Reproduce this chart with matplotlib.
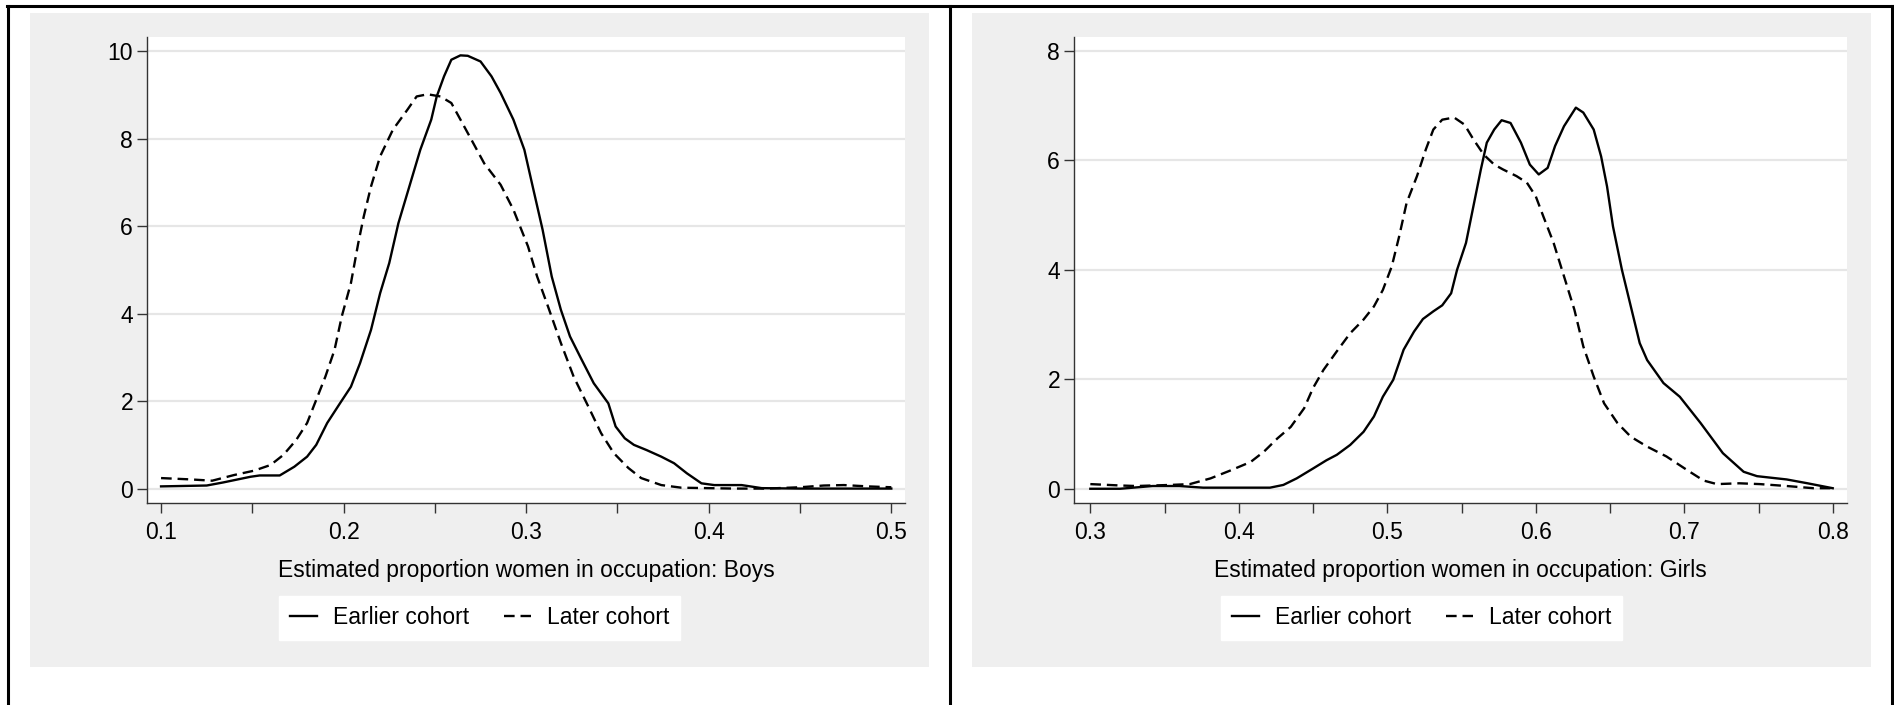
import matplotlib
matplotlib.use('Agg')
import matplotlib.pyplot as plt
from matplotlib.lines import Line2D
from matplotlib.patches import Rectangle

plt.rcParams['font.family'] = ['Liberation Sans', 'DejaVu Sans']

# ---- data (kernel density curves) ----
boys_early_x = [0.100, 0.125, 0.134, 0.149, 0.154, 0.165, 0.173, 0.180, 0.185, 0.191, 0.198, 0.204,
                0.209, 0.215, 0.220, 0.225, 0.230, 0.236, 0.242, 0.248, 0.251, 0.255, 0.259, 0.264,
                0.268, 0.275, 0.281, 0.286, 0.293, 0.299, 0.304, 0.309, 0.314, 0.319, 0.324, 0.330,
                0.337, 0.345, 0.349, 0.354, 0.359, 0.366, 0.374, 0.381, 0.388, 0.396, 0.403, 0.418,
                0.429, 0.450, 0.500]
boys_early_y = [0.05, 0.07, 0.14, 0.27, 0.30, 0.30, 0.50, 0.73, 1.00, 1.50, 1.95, 2.33,
                2.87, 3.63, 4.47, 5.16, 6.07, 6.91, 7.75, 8.44, 8.97, 9.43, 9.81, 9.91,
                9.90, 9.77, 9.43, 9.05, 8.44, 7.75, 6.83, 5.92, 4.85, 4.09, 3.48, 2.98,
                2.41, 1.95, 1.42, 1.15, 1.00, 0.88, 0.73, 0.58, 0.35, 0.12, 0.08, 0.08,
                0.01, 0.00, 0.00]
boys_late_x = [0.100, 0.116, 0.128, 0.140, 0.151, 0.160, 0.167, 0.174, 0.180, 0.185, 0.190, 0.195,
               0.199, 0.204, 0.208, 0.211, 0.215, 0.220, 0.227, 0.235, 0.240, 0.246, 0.253, 0.259,
               0.264, 0.270, 0.277, 0.286, 0.293, 0.301, 0.306, 0.312, 0.319, 0.326, 0.334, 0.341,
               0.348, 0.356, 0.363, 0.374, 0.385, 0.414, 0.432, 0.450, 0.463, 0.474, 0.487, 0.500]
boys_late_y = [0.24, 0.21, 0.18, 0.31, 0.41, 0.54, 0.77, 1.11, 1.50, 2.03, 2.56, 3.17,
               3.94, 4.70, 5.61, 6.22, 6.91, 7.60, 8.21, 8.67, 8.97, 9.02, 8.97, 8.82,
               8.44, 7.98, 7.44, 6.95, 6.38, 5.54, 4.85, 4.16, 3.33, 2.56, 1.88, 1.27,
               0.81, 0.47, 0.24, 0.08, 0.02, 0.00, 0.00, 0.03, 0.07, 0.08, 0.05, 0.03]

girls_early_x = [0.300, 0.320, 0.342, 0.360, 0.376, 0.421, 0.430, 0.439, 0.450, 0.459, 0.466, 0.475,
                 0.484, 0.491, 0.497, 0.504, 0.511, 0.518, 0.524, 0.531, 0.537, 0.543, 0.547, 0.553,
                 0.558, 0.563, 0.567, 0.572, 0.577, 0.583, 0.590, 0.596, 0.602, 0.608, 0.613, 0.619,
                 0.627, 0.632, 0.639, 0.644, 0.648, 0.652, 0.658, 0.664, 0.670, 0.675, 0.686, 0.697,
                 0.711, 0.726, 0.740, 0.749, 0.769, 0.783, 0.800]
girls_early_y = [0.00, 0.00, 0.05, 0.05, 0.02, 0.02, 0.07, 0.19, 0.37, 0.52, 0.62, 0.80,
                 1.04, 1.32, 1.68, 1.99, 2.54, 2.87, 3.10, 3.24, 3.35, 3.57, 4.00, 4.49,
                 5.16, 5.83, 6.32, 6.56, 6.73, 6.68, 6.32, 5.92, 5.74, 5.86, 6.26, 6.62,
                 6.96, 6.87, 6.56, 6.07, 5.52, 4.79, 4.00, 3.33, 2.66, 2.35, 1.93, 1.68,
                 1.20, 0.65, 0.31, 0.23, 0.17, 0.10, 0.01]
girls_late_x = [0.300, 0.320, 0.331, 0.354, 0.367, 0.381, 0.394, 0.408, 0.417, 0.426, 0.435, 0.444,
                0.450, 0.457, 0.466, 0.475, 0.484, 0.491, 0.497, 0.503, 0.508, 0.513, 0.520, 0.526,
                0.531, 0.537, 0.545, 0.552, 0.558, 0.565, 0.572, 0.578, 0.587, 0.594, 0.600, 0.605,
                0.612, 0.619, 0.626, 0.632, 0.639, 0.646, 0.655, 0.664, 0.675, 0.688, 0.702, 0.713,
                0.722, 0.737, 0.751, 0.769, 0.787, 0.800]
girls_late_y = [0.085, 0.06, 0.05, 0.07, 0.085, 0.19, 0.33, 0.49, 0.68, 0.92, 1.13, 1.47,
                1.84, 2.17, 2.51, 2.84, 3.09, 3.33, 3.63, 4.06, 4.61, 5.22, 5.71, 6.20,
                6.56, 6.74, 6.78, 6.65, 6.38, 6.10, 5.92, 5.83, 5.71, 5.59, 5.34, 4.98,
                4.49, 3.88, 3.27, 2.60, 2.05, 1.56, 1.20, 0.95, 0.77, 0.59, 0.34, 0.15,
                0.085, 0.10, 0.085, 0.05, 0.01, 0.01]

boys_xticks = [0.1, 0.2, 0.3, 0.4, 0.5]
boys_xminor = [0.15, 0.25, 0.35, 0.45]
boys_yticks = [0, 2, 4, 6, 8, 10]
girls_xticks = [0.3, 0.4, 0.5, 0.6, 0.7, 0.8]
girls_xminor = [0.35, 0.45, 0.55, 0.65, 0.75]
girls_yticks = [0, 2, 4, 6, 8]
series_labels = ['Earlier cohort', 'Later cohort']

W, H = 1894, 705
fig = plt.figure(figsize=(W / 100, H / 100), dpi=100)

def fx(px):
    return px / W

def fy(py):
    return 1 - py / H

# outer black frames (Stata graph borders)
for x in (8, 950, 1892):
    fig.add_artist(Line2D([fx(x), fx(x)], [fy(6), fy(H + 5)], color='black', lw=2.2))
fig.add_artist(Line2D([fx(7), fx(1893)], [fy(6), fy(6)], color='black', lw=2.2))

# gray graph regions
for x0, x1 in ((30, 929), (972, 1871)):
    fig.add_artist(Rectangle((fx(x0), fy(667)), fx(x1 - x0), 654 / H,
                             facecolor='#efefef', edgecolor='none', zorder=0))

dash = (0, (4.5, 2.5))
fs = 16.5


def panel(rect, ex, ey, lx, ly, xt, xm, yt, xlim, ylim, xlabel, gray):
    ax = fig.add_axes(rect)
    ax.set_facecolor('white')
    for y in yt:
        ax.axhline(y, color='#e6e6e6', lw=1.6, zorder=1)
    ax.plot(ex, ey, color='black', lw=1.7, zorder=3, label=series_labels[0])
    ax.plot(lx, ly, color='black', lw=1.7, ls=dash, zorder=3, label=series_labels[1])
    ax.set_xlim(*xlim)
    ax.set_ylim(*ylim)
    ax.set_xticks(xt)
    ax.set_xticklabels([f'{v:g}' for v in xt])
    ax.set_xticks(xm, minor=True)
    ax.set_yticks(yt)
    ax.set_yticklabels([str(v) for v in yt])
    ax.tick_params(which='both', direction='out', length=7, width=1.0, labelsize=fs, color='#333333')
    ax.tick_params(axis='x', pad=6)
    ax.tick_params(axis='y', pad=3)
    for s in ('top', 'right'):
        ax.spines[s].set_visible(False)
    for s in ('left', 'bottom'):
        ax.spines[s].set_linewidth(1.0)
        ax.spines[s].set_color('#333333')
    cx = (rect[0] + rect[0] + rect[2]) / 2
    fig.text(cx, fy(571), xlabel, ha='center', va='center', fontsize=fs)
    gcx = fx((gray[0] + gray[1]) / 2)
    fig.legend(handles=ax.get_lines()[-2:], labels=series_labels, ncol=2,
               loc='upper center', bbox_to_anchor=(gcx, fy(596)), fontsize=fs,
               frameon=True, fancybox=False, edgecolor='white', facecolor='white',
               framealpha=1, handlelength=1.2, handletextpad=0.7, columnspacing=1.5,
               borderpad=0.45, borderaxespad=0)
    return ax


panel([fx(147), fy(503), fx(905 - 147), (503 - 37) / H],
      boys_early_x, boys_early_y, boys_late_x, boys_late_y,
      boys_xticks, boys_xminor, boys_yticks, (0.0923, 0.5075), (-0.33, 10.33),
      'Estimated proportion women in occupation: Boys', (30, 929))
panel([fx(1074), fy(503), fx(1847 - 1074), (503 - 37) / H],
      girls_early_x, girls_early_y, girls_late_x, girls_late_y,
      girls_xticks, girls_xminor, girls_yticks, (0.289, 0.8096), (-0.26, 8.25),
      'Estimated proportion women in occupation: Girls', (972, 1871))

fig.savefig('out.png', dpi=100)
